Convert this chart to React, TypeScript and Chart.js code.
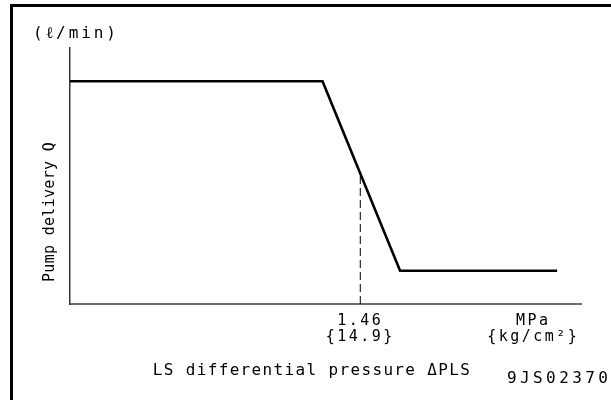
import React, { useEffect, useRef } from "react";
import { Chart, registerables } from "chart.js";

Chart.register(...registerables);

// Pump delivery Q vs. LS differential pressure ΔPLS
const pressure = [0, 1.27, 1.66, 2.45];
const delivery = [87, 87, 13, 13];
const markerPressure = [1.46, 1.46];
const markerDelivery = [0, 51];
const tickValues = [1.46, 2.33];
const tickLabels = [
  ["1.46", "{14.9}"],
  ["MPa", "{kg/cm²}"],
];
const unitLabel = "(ℓ/min)";
const yTitle = "Pump delivery Q";
const xTitle = "LS differential pressure ΔPLS";
const figId = "9JS02370";

const FONT = "'DejaVu Sans Mono', monospace";

const textPlugin = {
  id: "freeText",
  beforeDraw(chart: any) {
    chart.ctx.letterSpacing = "2.5px";
  },
  afterDraw(chart: any) {
    const ctx = chart.ctx;
    ctx.save();
    ctx.fillStyle = "#000";
    ctx.textBaseline = "middle";
    // unit
    ctx.font = `16px ${FONT}`;
    ctx.letterSpacing = "2.9px";
    ctx.textAlign = "left";
    ctx.fillText(unitLabel, 33, 34);
    // x title
    ctx.letterSpacing = "1.35px";
    ctx.textAlign = "center";
    ctx.fillText(xTitle, 312, 371);
    // figure id
    ctx.letterSpacing = "3.4px";
    ctx.textAlign = "left";
    ctx.fillText(figId, 507, 379);
    // y title
    ctx.font = `15px ${FONT}`;
    ctx.letterSpacing = "0.3px";
    ctx.translate(50, 212);
    ctx.rotate(-Math.PI / 2);
    ctx.textAlign = "center";
    ctx.fillText(yTitle, 0, 0);
    ctx.restore();
    ctx.letterSpacing = "0px";
  },
};

export default function App() {
  const ref = useRef<HTMLCanvasElement>(null);
  useEffect(() => {
    document.body.style.margin = "0";
    const canvas = ref.current!;
    const chart = new Chart(canvas, {
      type: "line",
      data: {
        datasets: [
          {
            data: pressure.map((x, i) => ({ x, y: delivery[i] })),
            borderColor: "#000",
            borderWidth: 2.6,
            pointRadius: 0,
            tension: 0,
          },
          {
            data: markerPressure.map((x, i) => ({ x, y: markerDelivery[i] })),
            borderColor: "#000",
            borderWidth: 1,
            borderDash: [8, 4],
            pointRadius: 0,
          },
        ],
      },
      options: {
        animation: false,
        responsive: false,
        layout: { padding: { left: 0, right: 30, top: 48, bottom: 0 } },
        plugins: { legend: { display: false }, tooltip: { enabled: false }, title: { display: false } },
        scales: {
          x: {
            type: "linear",
            min: 0,
            max: 2.57,
            grid: { display: false, drawTicks: false },
            border: { display: true, color: "#6e6e6e", width: 2 },
            afterBuildTicks: (scale: any) => {
              scale.ticks = tickValues.map((v) => ({ value: v }));
            },
            afterFit: (scale: any) => {
              scale.height = 96;
              scale.paddingLeft = 0;
              scale.paddingRight = 0;
            },
            ticks: {
              autoSkip: false,
              maxRotation: 0,
              padding: 9,
              color: "#000",
              font: { family: FONT, size: 15, lineHeight: 16 / 15 },
              callback: (v: any) => {
                const i = tickValues.indexOf(Number(v));
                return i >= 0 ? tickLabels[i] : "";
              },
            },
          },
          y: {
            min: 0,
            max: 100,
            grid: { display: false, drawTicks: false },
            border: { display: true, color: "#333", width: 1.5 },
            ticks: { display: false },
            afterFit: (scale: any) => {
              scale.width = 70;
            },
          },
        },
      },
      plugins: [textPlugin],
    });
    return () => chart.destroy();
  }, []);
  return (
    <div style={{ position: "relative", width: 611, height: 400, background: "#fff", overflow: "hidden" }}>
      <div
        style={{
          position: "absolute",
          left: 10,
          top: 4,
          width: 620,
          height: 410,
          borderLeft: "3px solid #000",
          borderTop: "3px solid #000",
        }}
      />
      <canvas ref={ref} width={611} height={400} style={{ position: "absolute", left: 0, top: 0 }} />
    </div>
  );
}
